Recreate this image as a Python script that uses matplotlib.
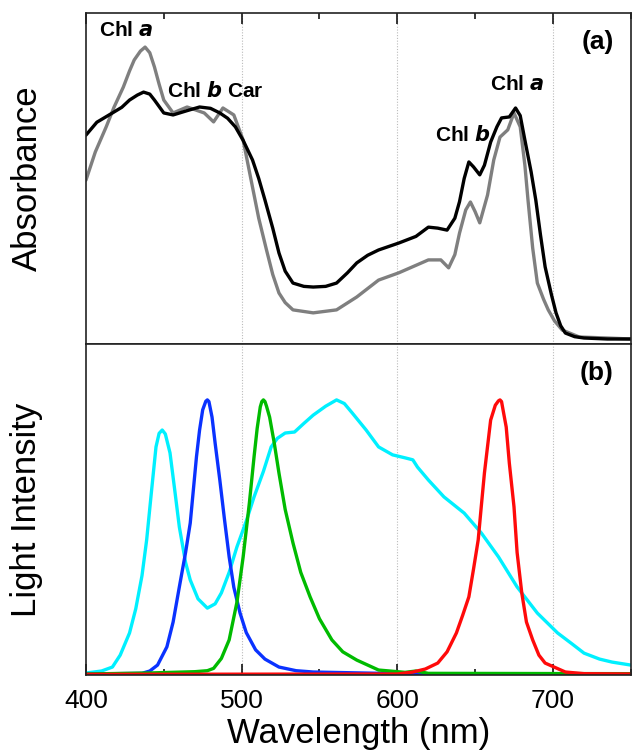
import matplotlib.pyplot as plt
from matplotlib.ticker import MultipleLocator

# ---- panel (a): absorbance spectra (arbitrary units, 0-1) ----
wl_black = [400, 407, 417, 423, 428, 433, 437, 441, 444, 450, 456, 465, 473, 480,
            486, 491, 496, 501, 507, 511, 515, 520, 524, 528, 533, 540, 546, 554,
            561, 568, 574, 581, 588, 601, 612, 620, 626, 632, 637, 640, 643, 646,
            649, 653, 656, 660, 664, 667, 672, 676, 679, 682, 686, 689, 692, 695,
            699, 702, 705, 708, 714, 720, 735, 750]
abs_black = [0.631, 0.670, 0.698, 0.715, 0.737, 0.752, 0.761, 0.755, 0.737, 0.698,
             0.692, 0.705, 0.716, 0.712, 0.698, 0.682, 0.656, 0.615, 0.556, 0.500,
             0.435, 0.350, 0.275, 0.220, 0.184, 0.174, 0.172, 0.174, 0.184, 0.215,
             0.245, 0.268, 0.284, 0.305, 0.325, 0.353, 0.350, 0.344, 0.380, 0.430,
             0.500, 0.550, 0.535, 0.511, 0.540, 0.610, 0.656, 0.683, 0.686, 0.713,
             0.690, 0.616, 0.520, 0.435, 0.330, 0.233, 0.150, 0.094, 0.055, 0.033,
             0.022, 0.018, 0.015, 0.015]

wl_gray = [400, 406, 413, 418, 424, 428, 431, 435, 438, 441, 444, 447, 450, 456,
           465, 476, 482, 488, 495, 501, 507, 511, 516, 520, 524, 528, 533, 546,
           561, 574, 588, 601, 620, 628, 633, 637, 640, 644, 647, 650, 653, 658,
           662, 666, 671, 675, 679, 682, 684, 687, 690, 694, 697, 701, 706, 717,
           735, 750]
abs_gray = [0.495, 0.580, 0.656, 0.715, 0.776, 0.825, 0.858, 0.885, 0.897, 0.880,
            0.837, 0.785, 0.737, 0.698, 0.716, 0.698, 0.671, 0.713, 0.692, 0.616,
            0.474, 0.380, 0.284, 0.210, 0.154, 0.125, 0.103, 0.094, 0.103, 0.142,
            0.193, 0.215, 0.254, 0.254, 0.230, 0.270, 0.335, 0.405, 0.429, 0.400,
            0.366, 0.450, 0.556, 0.625, 0.647, 0.698, 0.656, 0.540, 0.435, 0.290,
            0.184, 0.135, 0.103, 0.070, 0.042, 0.021, 0.018, 0.015]

# ---- panel (b): LED light spectra (arbitrary units, 0-1) ----
wl_cyan = [400, 410, 417, 422, 428, 432, 436, 439, 442, 445, 447, 449, 451, 454,
           457, 460, 464, 467, 472, 478, 483, 487, 492, 497, 503, 508, 514, 519,
           523, 528, 534, 540, 546, 554, 561, 566, 571, 580, 588, 597, 605, 610,
           613, 620, 630, 643, 654, 665, 677, 690, 703, 712, 720, 730, 738, 750]
int_cyan = [0.006, 0.012, 0.024, 0.060, 0.127, 0.200, 0.300, 0.408, 0.550, 0.689,
            0.730, 0.740, 0.728, 0.671, 0.560, 0.447, 0.340, 0.287, 0.230, 0.202,
            0.215, 0.248, 0.310, 0.387, 0.465, 0.538, 0.615, 0.689, 0.715, 0.731,
            0.734, 0.760, 0.785, 0.812, 0.831, 0.820, 0.792, 0.740, 0.689, 0.665,
            0.656, 0.650, 0.628, 0.589, 0.538, 0.489, 0.429, 0.357, 0.266, 0.187,
            0.127, 0.095, 0.066, 0.048, 0.039, 0.030]

wl_blue = [400, 436, 441, 446, 452, 456, 460, 464, 467, 471, 473, 475, 477, 478,
           479, 481, 483, 486, 489, 492, 495, 499, 503, 509, 515, 524, 535, 546,
           600, 750]
int_blue = [0.003, 0.005, 0.012, 0.030, 0.085, 0.160, 0.266, 0.370, 0.459, 0.659,
            0.740, 0.801, 0.827, 0.831, 0.826, 0.779, 0.700, 0.589, 0.470, 0.357,
            0.265, 0.187, 0.128, 0.076, 0.048, 0.024, 0.013, 0.009, 0.004, 0.003]

wl_green = [400, 440, 470, 478, 482, 487, 492, 497, 501, 505, 508, 510, 512, 513,
            514, 515, 516, 518, 521, 524, 528, 533, 538, 544, 550, 558, 565, 574,
            588, 605, 612, 620, 750]
int_green = [0.003, 0.006, 0.010, 0.013, 0.020, 0.050, 0.106, 0.220, 0.357, 0.520,
             0.659, 0.745, 0.810, 0.826, 0.831, 0.826, 0.812, 0.779, 0.700, 0.610,
             0.500, 0.399, 0.310, 0.236, 0.170, 0.106, 0.070, 0.045, 0.015, 0.008,
             0.012, 0.005, 0.004]

wl_red = [400, 600, 610, 618, 626, 632, 638, 642, 646, 649, 652, 654, 656, 658,
          660, 663, 665, 666, 667, 668, 670, 672, 675, 677, 680, 683, 687, 691,
          695, 708, 720, 750]
int_red = [0.002, 0.003, 0.009, 0.018, 0.036, 0.070, 0.127, 0.180, 0.236, 0.320,
           0.408, 0.510, 0.610, 0.690, 0.770, 0.815, 0.828, 0.831, 0.826, 0.800,
           0.749, 0.640, 0.508, 0.370, 0.248, 0.160, 0.106, 0.060, 0.036, 0.009,
           0.004, 0.003]

xticks = [400, 500, 600, 700]

plt.rcParams['font.family'] = ['Liberation Sans', 'DejaVu Sans']
plt.rcParams['lines.solid_joinstyle'] = 'round'
plt.rcParams['lines.solid_capstyle'] = 'round'

fig = plt.figure(figsize=(6.32, 7.52), dpi=100)
ax1 = fig.add_axes([0.136, 0.5426, 0.862, 0.4401])
ax2 = fig.add_axes([0.136, 0.1024, 0.862, 0.4402], sharex=ax1)

ax1.plot(wl_gray, abs_gray, color='#7f7f7f', lw=2.4)
ax1.plot(wl_black, abs_black, color='black', lw=2.4)

ax2.plot(wl_cyan, int_cyan, color='#00f0ff', lw=2.4)
ax2.plot(wl_blue, int_blue, color='#0a32ff', lw=2.4)
ax2.plot(wl_green, int_green, color='#00bb00', lw=2.4)
ax2.plot(wl_red, int_red, color='#ff0a0a', lw=2.4)

for ax in (ax1, ax2):
    ax.set_xlim(400, 750)
    ax.set_ylim(0, 1)
    ax.set_yticks([])
    ax.xaxis.set_major_locator(MultipleLocator(100))
    ax.xaxis.set_minor_locator(MultipleLocator(50))
    for x in [500, 600, 700]:
        ax.axvline(x, color='#bbbbbb', lw=0.8, ls=(0, (1, 1.5)), zorder=0)
    for s in ax.spines.values():
        s.set_linewidth(1.2)
        s.set_color('#222222')

ax1.tick_params(axis='x', which='both', direction='in', top=True, bottom=False,
                labelbottom=False, labeltop=False)
ax1.tick_params(axis='x', which='major', length=8, width=1.1)
ax1.tick_params(axis='x', which='minor', length=4, width=1.1)
ax2.tick_params(axis='x', which='both', direction='in', top=False, bottom=True,
                labelsize=19)
ax2.tick_params(axis='x', which='major', length=8, width=1.1, pad=10)
ax2.tick_params(axis='x', which='minor', length=4, width=1.1)
ax2.set_xticks(xticks)

ax1.set_ylabel('Absorbance', fontsize=25)
ax2.set_ylabel('Light Intensity', fontsize=25)
ax2.set_xlabel('Wavelength (nm)', fontsize=25, labelpad=3)
ax1.yaxis.set_label_coords(-0.078, 0.5)
ax2.yaxis.set_label_coords(-0.078, 0.5)

kw = dict(fontsize=15, fontweight='bold', ha='center', va='center')
ax1.text(426, 0.946, 'Chl $\\bfit{a}$', **kw)
ax1.text(483, 0.764, 'Chl $\\bfit{b}$ Car', **kw)
ax1.text(642, 0.631, 'Chl $\\bfit{b}$', **kw)
ax1.text(677, 0.785, 'Chl $\\bfit{a}$', **kw)
ax1.text(739, 0.912, '(a)', fontsize=19, fontweight='bold', ha='right', va='center')
ax2.text(739, 0.912, '(b)', fontsize=19, fontweight='bold', ha='right', va='center')

fig.savefig('out.png', dpi=100)
